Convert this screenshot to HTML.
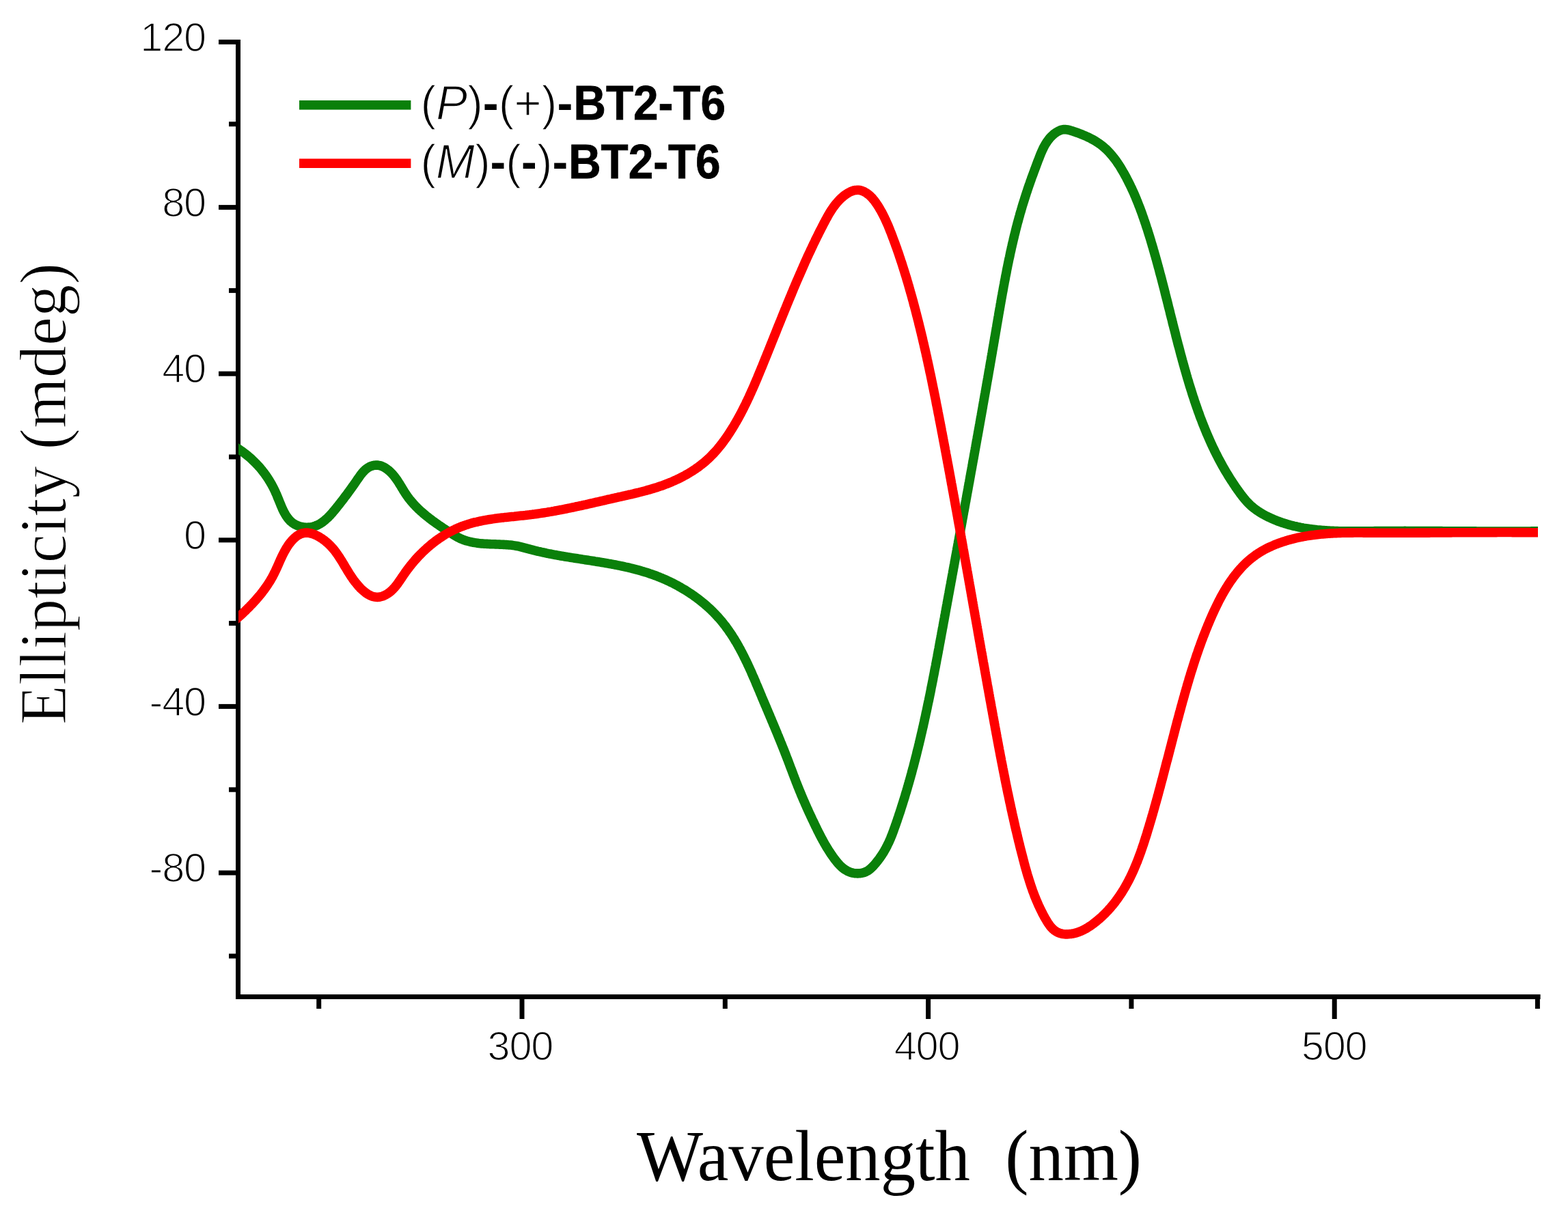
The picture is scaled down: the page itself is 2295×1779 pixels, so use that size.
<!DOCTYPE html>
<html><head><meta charset="utf-8"><title>CD spectra</title>
<style>
html,body{margin:0;padding:0;background:#fff;}
body{width:2295px;height:1779px;overflow:hidden;}
svg{display:block;}
</style></head><body>
<svg width="2295" height="1779" viewBox="0 0 2295 1779">
<rect x="345" y="58" width="7" height="1405" fill="#000"/>
<rect x="345" y="1456" width="1909.6" height="7" fill="#000"/>
<rect x="335" y="1396.4" width="13" height="7" fill="#000"/>
<rect x="320" y="1274.5" width="28" height="7" fill="#000"/>
<rect x="335" y="1152.7" width="13" height="7" fill="#000"/>
<rect x="320" y="1030.9" width="28" height="7" fill="#000"/>
<rect x="335" y="909.1" width="13" height="7" fill="#000"/>
<rect x="320" y="787.3" width="28" height="7" fill="#000"/>
<rect x="335" y="665.5" width="13" height="7" fill="#000"/>
<rect x="320" y="543.7" width="28" height="7" fill="#000"/>
<rect x="335" y="421.9" width="13" height="7" fill="#000"/>
<rect x="320" y="300.1" width="28" height="7" fill="#000"/>
<rect x="335" y="178.2" width="13" height="7" fill="#000"/>
<rect x="320" y="58.0" width="28" height="7" fill="#000"/>
<rect x="463.2" y="1459" width="7" height="18" fill="#000"/>
<rect x="760.5" y="1459" width="7" height="33" fill="#000"/>
<rect x="1057.8" y="1459" width="7" height="18" fill="#000"/>
<rect x="1355.1" y="1459" width="7" height="33" fill="#000"/>
<rect x="1652.4" y="1459" width="7" height="18" fill="#000"/>
<rect x="1949.7" y="1459" width="7" height="33" fill="#000"/>
<rect x="2246.9" y="1459" width="7" height="18" fill="#000"/>
<text x="301" y="1291.2" text-anchor="end" font-family="&apos;Liberation Sans&apos;, Arial, sans-serif" font-size="59.5" letter-spacing="-1.2" fill="#000" stroke="#fff" stroke-width="1.6">-80</text>
<text x="301" y="1047.6" text-anchor="end" font-family="&apos;Liberation Sans&apos;, Arial, sans-serif" font-size="59.5" letter-spacing="-1.2" fill="#000" stroke="#fff" stroke-width="1.6">-40</text>
<text x="301" y="804.0" text-anchor="end" font-family="&apos;Liberation Sans&apos;, Arial, sans-serif" font-size="59.5" letter-spacing="-1.2" fill="#000" stroke="#fff" stroke-width="1.6">0</text>
<text x="301" y="560.4" text-anchor="end" font-family="&apos;Liberation Sans&apos;, Arial, sans-serif" font-size="59.5" letter-spacing="-1.2" fill="#000" stroke="#fff" stroke-width="1.6">40</text>
<text x="301" y="316.8" text-anchor="end" font-family="&apos;Liberation Sans&apos;, Arial, sans-serif" font-size="59.5" letter-spacing="-1.2" fill="#000" stroke="#fff" stroke-width="1.6">80</text>
<text x="301" y="74.7" text-anchor="end" font-family="&apos;Liberation Sans&apos;, Arial, sans-serif" font-size="59.5" letter-spacing="-1.2" fill="#000" stroke="#fff" stroke-width="1.6">120</text>
<text x="761.4" y="1552" text-anchor="middle" font-family="&apos;Liberation Sans&apos;, Arial, sans-serif" font-size="59.5" letter-spacing="-1.2" fill="#000" stroke="#fff" stroke-width="1.6">300</text>
<text x="1356.5" y="1552" text-anchor="middle" font-family="&apos;Liberation Sans&apos;, Arial, sans-serif" font-size="59.5" letter-spacing="-1.2" fill="#000" stroke="#fff" stroke-width="1.6">400</text>
<text x="1952.6" y="1552" text-anchor="middle" font-family="&apos;Liberation Sans&apos;, Arial, sans-serif" font-size="59.5" letter-spacing="-1.2" fill="#000" stroke="#fff" stroke-width="1.6">500</text>
<clipPath id="pc"><rect x="348.9" y="0" width="1902" height="1779"/></clipPath>
<g clip-path="url(#pc)">
<path d="M344.0,654.0 L345.7,655.1 L347.4,656.2 L349.1,657.3 L350.8,658.5 L352.5,659.6 L354.1,660.8 L355.7,662.0 L357.3,663.2 L358.9,664.4 L360.4,665.6 L362.0,666.9 L363.5,668.1 L365.0,669.4 L366.5,670.7 L368.0,672.0 L369.4,673.4 L370.8,674.7 L372.2,676.1 L373.6,677.5 L375.0,678.9 L376.3,680.3 L377.7,681.7 L379.0,683.2 L380.3,684.6 L381.5,686.1 L382.8,687.6 L384.0,689.2 L385.2,690.7 L386.4,692.3 L387.6,693.8 L388.8,695.5 L389.9,697.1 L391.0,698.7 L392.1,700.4 L393.2,702.0 L394.2,703.7 L395.3,705.5 L396.3,707.2 L397.3,708.9 L398.3,710.7 L399.2,712.5 L400.2,714.3 L401.1,716.2 L402.0,718.0 L402.9,719.9 L403.7,721.8 L404.6,723.7 L405.4,725.6 L406.2,727.6 L407.0,729.6 L407.8,731.5 L408.6,733.5 L409.4,735.5 L410.2,737.4 L411.0,739.4 L411.8,741.3 L412.6,743.2 L413.4,745.1 L414.3,746.9 L415.2,748.8 L416.1,750.5 L417.1,752.3 L418.1,754.0 L419.1,755.6 L420.2,757.2 L421.4,758.8 L422.6,760.2 L423.8,761.6 L425.1,763.0 L426.5,764.2 L427.9,765.4 L429.5,766.5 L431.1,767.5 L432.7,768.4 L434.4,769.2 L436.2,769.9 L438.0,770.5 L439.9,771.0 L441.8,771.5 L443.8,771.8 L445.7,772.0 L447.7,772.2 L449.7,772.2 L451.6,772.1 L453.6,772.0 L455.6,771.7 L457.5,771.3 L459.4,770.8 L461.2,770.2 L463.1,769.5 L464.9,768.7 L466.6,767.9 L468.4,766.9 L470.0,765.8 L471.7,764.7 L473.3,763.5 L474.9,762.2 L476.5,760.9 L478.0,759.5 L479.6,758.1 L481.1,756.6 L482.5,755.1 L484.0,753.6 L485.4,752.0 L486.8,750.4 L488.1,748.8 L489.5,747.2 L490.8,745.6 L492.1,744.0 L493.4,742.3 L494.7,740.7 L495.9,739.2 L497.2,737.6 L498.4,736.0 L499.6,734.5 L500.8,732.9 L502.0,731.4 L503.2,729.8 L504.3,728.3 L505.5,726.7 L506.7,725.2 L507.8,723.7 L509.0,722.1 L510.1,720.6 L511.2,719.0 L512.4,717.5 L513.5,715.9 L514.6,714.3 L515.8,712.7 L516.9,711.1 L518.1,709.5 L519.2,707.8 L520.4,706.1 L521.5,704.5 L522.7,702.7 L523.9,701.0 L525.1,699.3 L526.3,697.6 L527.5,695.9 L528.8,694.2 L530.1,692.6 L531.5,691.0 L532.9,689.5 L534.3,688.1 L535.9,686.8 L537.4,685.6 L539.1,684.5 L540.8,683.5 L542.6,682.7 L544.4,682.1 L546.3,681.6 L548.2,681.2 L550.1,681.1 L552.1,681.1 L553.9,681.3 L555.8,681.7 L557.7,682.2 L559.5,682.9 L561.3,683.7 L563.0,684.7 L564.7,685.7 L566.4,686.9 L568.0,688.1 L569.6,689.4 L571.1,690.8 L572.5,692.2 L573.9,693.7 L575.3,695.2 L576.6,696.8 L577.8,698.3 L579.0,699.9 L580.2,701.6 L581.4,703.2 L582.5,704.9 L583.6,706.6 L584.6,708.3 L585.7,710.0 L586.8,711.8 L587.8,713.5 L588.9,715.2 L589.9,717.0 L591.0,718.7 L592.0,720.4 L593.1,722.1 L594.2,723.7 L595.3,725.4 L596.5,727.0 L597.6,728.6 L598.8,730.2 L600.1,731.8 L601.3,733.3 L602.6,734.8 L603.9,736.3 L605.2,737.8 L606.5,739.2 L607.9,740.7 L609.3,742.1 L610.7,743.5 L612.1,744.9 L613.5,746.2 L615.0,747.6 L616.4,748.9 L617.9,750.2 L619.4,751.5 L620.9,752.8 L622.5,754.1 L624.0,755.4 L625.6,756.6 L627.1,757.8 L628.7,759.1 L630.3,760.3 L631.9,761.5 L633.5,762.7 L635.2,763.9 L636.8,765.0 L638.4,766.2 L640.1,767.4 L641.7,768.5 L643.4,769.7 L645.1,770.8 L646.7,771.9 L648.4,773.1 L650.1,774.2 L651.8,775.3 L653.4,776.4 L655.1,777.5 L656.8,778.6 L658.5,779.7 L660.2,780.7 L661.8,781.8 L663.5,782.9 L665.2,783.9 L666.9,784.9 L668.6,785.9 L670.4,786.8 L672.1,787.7 L673.9,788.6 L675.7,789.3 L677.5,790.1 L679.4,790.8 L681.3,791.4 L683.1,792.0 L685.1,792.5 L687.0,793.0 L688.9,793.5 L690.9,793.9 L692.8,794.3 L694.8,794.6 L696.8,794.9 L698.8,795.2 L700.8,795.5 L702.8,795.7 L704.9,795.9 L706.9,796.0 L708.9,796.2 L710.9,796.3 L713.0,796.4 L715.0,796.5 L717.0,796.6 L719.0,796.7 L721.1,796.8 L723.1,796.8 L725.1,796.9 L727.1,797.0 L729.2,797.0 L731.2,797.1 L733.2,797.2 L735.2,797.3 L737.2,797.4 L739.2,797.5 L741.2,797.6 L743.2,797.7 L745.2,797.9 L747.2,798.1 L749.2,798.3 L751.1,798.6 L753.1,798.9 L755.0,799.2 L757.0,799.5 L758.9,799.9 L760.8,800.3 L762.8,800.8 L764.7,801.3 L766.6,801.8 L768.5,802.3 L770.4,802.8 L772.3,803.3 L774.2,803.8 L776.1,804.4 L778.1,804.9 L780.0,805.4 L781.9,805.9 L783.8,806.3 L785.8,806.8 L787.7,807.3 L789.6,807.7 L791.6,808.2 L793.5,808.6 L795.5,809.0 L797.4,809.4 L799.4,809.9 L801.3,810.3 L803.3,810.7 L805.2,811.0 L807.2,811.4 L809.2,811.8 L811.1,812.2 L813.1,812.5 L815.1,812.9 L817.1,813.3 L819.0,813.6 L821.0,814.0 L823.0,814.3 L825.0,814.6 L827.0,815.0 L828.9,815.3 L830.9,815.6 L832.9,815.9 L834.9,816.3 L836.9,816.6 L838.9,816.9 L840.9,817.2 L842.9,817.5 L844.9,817.8 L846.9,818.1 L848.9,818.4 L850.9,818.8 L852.9,819.1 L854.9,819.4 L856.8,819.7 L858.8,820.0 L860.8,820.3 L862.8,820.6 L864.8,820.9 L866.8,821.2 L868.8,821.5 L870.8,821.9 L872.8,822.2 L874.8,822.5 L876.8,822.8 L878.8,823.1 L880.8,823.5 L882.8,823.8 L884.8,824.1 L886.8,824.5 L888.7,824.8 L890.7,825.2 L892.7,825.5 L894.7,825.9 L896.7,826.3 L898.7,826.6 L900.6,827.0 L902.6,827.4 L904.6,827.8 L906.5,828.2 L908.5,828.6 L910.5,829.0 L912.4,829.4 L914.4,829.9 L916.4,830.3 L918.3,830.7 L920.3,831.2 L922.2,831.7 L924.2,832.1 L926.1,832.6 L928.1,833.1 L930.0,833.6 L931.9,834.1 L933.9,834.6 L935.8,835.2 L937.7,835.7 L939.6,836.3 L941.5,836.8 L943.4,837.4 L945.4,838.0 L947.3,838.6 L949.2,839.2 L951.0,839.9 L952.9,840.5 L954.8,841.2 L956.7,841.8 L958.6,842.5 L960.4,843.2 L962.3,843.9 L964.2,844.7 L966.0,845.4 L967.9,846.2 L969.7,846.9 L971.6,847.7 L973.4,848.5 L975.2,849.3 L977.0,850.2 L978.9,851.0 L980.7,851.9 L982.5,852.8 L984.3,853.6 L986.0,854.5 L987.8,855.5 L989.6,856.4 L991.3,857.3 L993.1,858.3 L994.8,859.3 L996.6,860.3 L998.3,861.3 L1000.0,862.3 L1001.7,863.3 L1003.5,864.3 L1005.1,865.4 L1006.8,866.5 L1008.5,867.6 L1010.2,868.7 L1011.8,869.8 L1013.5,870.9 L1015.1,872.0 L1016.7,873.2 L1018.3,874.4 L1019.9,875.5 L1021.5,876.7 L1023.1,877.9 L1024.7,879.2 L1026.2,880.4 L1027.8,881.7 L1029.3,882.9 L1030.9,884.2 L1032.4,885.5 L1033.9,886.8 L1035.3,888.1 L1036.8,889.4 L1038.3,890.8 L1039.7,892.1 L1041.2,893.5 L1042.6,894.9 L1044.0,896.3 L1045.4,897.7 L1046.8,899.1 L1048.1,900.6 L1049.5,902.0 L1050.8,903.5 L1052.1,904.9 L1053.4,906.4 L1054.7,907.9 L1056.0,909.4 L1057.3,911.0 L1058.5,912.5 L1059.7,914.1 L1061.0,915.6 L1062.2,917.2 L1063.3,918.8 L1064.5,920.4 L1065.7,922.0 L1066.8,923.6 L1067.9,925.3 L1069.1,926.9 L1070.2,928.6 L1071.3,930.2 L1072.3,931.9 L1073.4,933.6 L1074.5,935.3 L1075.5,937.0 L1076.5,938.7 L1077.6,940.4 L1078.6,942.1 L1079.6,943.9 L1080.6,945.6 L1081.5,947.4 L1082.5,949.1 L1083.5,950.9 L1084.4,952.7 L1085.4,954.5 L1086.3,956.2 L1087.2,958.0 L1088.1,959.8 L1089.0,961.6 L1089.9,963.5 L1090.8,965.3 L1091.7,967.1 L1092.6,968.9 L1093.5,970.7 L1094.3,972.6 L1095.2,974.4 L1096.0,976.2 L1096.9,978.1 L1097.7,979.9 L1098.6,981.8 L1099.4,983.6 L1100.2,985.5 L1101.0,987.4 L1101.8,989.2 L1102.6,991.1 L1103.5,992.9 L1104.3,994.8 L1105.1,996.7 L1105.9,998.5 L1106.6,1000.4 L1107.4,1002.3 L1108.2,1004.1 L1109.0,1006.0 L1109.8,1007.9 L1110.6,1009.7 L1111.4,1011.6 L1112.1,1013.4 L1112.9,1015.3 L1113.7,1017.2 L1114.5,1019.0 L1115.2,1020.9 L1116.0,1022.7 L1116.8,1024.6 L1117.6,1026.4 L1118.3,1028.3 L1119.1,1030.1 L1119.9,1032.0 L1120.7,1033.8 L1121.5,1035.6 L1122.2,1037.5 L1123.0,1039.3 L1123.8,1041.1 L1124.5,1043.0 L1125.3,1044.8 L1126.1,1046.6 L1126.9,1048.5 L1127.6,1050.3 L1128.4,1052.1 L1129.2,1054.0 L1129.9,1055.8 L1130.7,1057.6 L1131.5,1059.4 L1132.2,1061.3 L1133.0,1063.1 L1133.8,1064.9 L1134.5,1066.7 L1135.3,1068.6 L1136.1,1070.4 L1136.8,1072.2 L1137.6,1074.1 L1138.3,1075.9 L1139.1,1077.7 L1139.8,1079.6 L1140.6,1081.4 L1141.3,1083.2 L1142.1,1085.1 L1142.8,1086.9 L1143.6,1088.7 L1144.3,1090.6 L1145.0,1092.4 L1145.8,1094.3 L1146.5,1096.1 L1147.3,1098.0 L1148.0,1099.8 L1148.7,1101.7 L1149.4,1103.5 L1150.2,1105.4 L1150.9,1107.3 L1151.6,1109.1 L1152.3,1111.0 L1153.1,1112.9 L1153.8,1114.7 L1154.5,1116.6 L1155.2,1118.5 L1155.9,1120.4 L1156.6,1122.3 L1157.3,1124.1 L1158.0,1126.0 L1158.8,1127.9 L1159.5,1129.8 L1160.2,1131.7 L1160.9,1133.6 L1161.6,1135.5 L1162.3,1137.3 L1163.0,1139.2 L1163.8,1141.1 L1164.5,1143.0 L1165.2,1144.9 L1166.0,1146.8 L1166.7,1148.6 L1167.4,1150.5 L1168.2,1152.4 L1168.9,1154.2 L1169.7,1156.1 L1170.4,1158.0 L1171.2,1159.8 L1172.0,1161.7 L1172.7,1163.5 L1173.5,1165.4 L1174.3,1167.2 L1175.1,1169.1 L1175.9,1170.9 L1176.7,1172.8 L1177.5,1174.6 L1178.3,1176.4 L1179.1,1178.3 L1179.9,1180.1 L1180.7,1181.9 L1181.5,1183.7 L1182.3,1185.5 L1183.2,1187.4 L1184.0,1189.2 L1184.8,1191.0 L1185.7,1192.8 L1186.5,1194.6 L1187.4,1196.4 L1188.2,1198.2 L1189.0,1200.0 L1189.9,1201.8 L1190.8,1203.6 L1191.6,1205.4 L1192.5,1207.2 L1193.3,1209.0 L1194.2,1210.7 L1195.1,1212.5 L1195.9,1214.3 L1196.8,1216.1 L1197.7,1217.9 L1198.6,1219.6 L1199.5,1221.4 L1200.4,1223.2 L1201.3,1224.9 L1202.2,1226.7 L1203.2,1228.4 L1204.1,1230.2 L1205.1,1231.9 L1206.0,1233.6 L1207.0,1235.4 L1208.0,1237.1 L1209.0,1238.8 L1210.0,1240.5 L1211.1,1242.2 L1212.1,1243.9 L1213.2,1245.6 L1214.3,1247.3 L1215.4,1249.0 L1216.5,1250.7 L1217.7,1252.3 L1218.8,1254.0 L1220.0,1255.6 L1221.2,1257.3 L1222.4,1258.9 L1223.7,1260.5 L1225.0,1262.1 L1226.3,1263.7 L1227.6,1265.2 L1229.0,1266.7 L1230.5,1268.1 L1231.9,1269.5 L1233.4,1270.8 L1235.0,1272.0 L1236.6,1273.2 L1238.3,1274.2 L1240.0,1275.2 L1241.8,1276.0 L1243.6,1276.8 L1245.5,1277.4 L1247.4,1278.0 L1249.4,1278.4 L1251.4,1278.7 L1253.4,1278.8 L1255.3,1278.9 L1257.3,1278.8 L1259.3,1278.7 L1261.2,1278.3 L1263.1,1277.9 L1265.0,1277.4 L1266.8,1276.7 L1268.5,1275.8 L1270.2,1274.9 L1271.8,1273.8 L1273.3,1272.6 L1274.8,1271.3 L1276.2,1270.0 L1277.6,1268.6 L1279.0,1267.1 L1280.3,1265.6 L1281.6,1264.1 L1282.9,1262.5 L1284.2,1260.9 L1285.4,1259.3 L1286.7,1257.7 L1287.9,1256.0 L1289.0,1254.3 L1290.2,1252.7 L1291.3,1250.9 L1292.4,1249.2 L1293.5,1247.5 L1294.5,1245.7 L1295.5,1243.9 L1296.5,1242.2 L1297.4,1240.4 L1298.4,1238.6 L1299.2,1236.8 L1300.1,1235.0 L1301.0,1233.2 L1301.8,1231.3 L1302.6,1229.5 L1303.4,1227.7 L1304.1,1225.9 L1304.9,1224.0 L1305.6,1222.2 L1306.3,1220.3 L1307.0,1218.5 L1307.7,1216.6 L1308.4,1214.7 L1309.0,1212.9 L1309.7,1211.0 L1310.4,1209.1 L1311.0,1207.3 L1311.7,1205.4 L1312.3,1203.5 L1313.0,1201.7 L1313.6,1199.8 L1314.2,1197.9 L1314.9,1196.0 L1315.5,1194.1 L1316.1,1192.2 L1316.8,1190.3 L1317.4,1188.5 L1318.0,1186.6 L1318.6,1184.7 L1319.2,1182.8 L1319.8,1180.9 L1320.4,1179.0 L1321.0,1177.1 L1321.6,1175.2 L1322.2,1173.3 L1322.8,1171.4 L1323.4,1169.5 L1324.0,1167.6 L1324.6,1165.6 L1325.1,1163.7 L1325.7,1161.8 L1326.3,1159.9 L1326.9,1158.0 L1327.4,1156.1 L1328.0,1154.2 L1328.5,1152.2 L1329.1,1150.3 L1329.6,1148.4 L1330.2,1146.5 L1330.7,1144.5 L1331.3,1142.6 L1331.8,1140.7 L1332.4,1138.8 L1332.9,1136.8 L1333.4,1134.9 L1334.0,1133.0 L1334.5,1131.0 L1335.0,1129.1 L1335.5,1127.2 L1336.0,1125.2 L1336.6,1123.3 L1337.1,1121.4 L1337.6,1119.4 L1338.1,1117.5 L1338.6,1115.6 L1339.1,1113.6 L1339.6,1111.7 L1340.1,1109.7 L1340.6,1107.8 L1341.1,1105.9 L1341.6,1103.9 L1342.0,1102.0 L1342.5,1100.0 L1343.0,1098.1 L1343.5,1096.1 L1344.0,1094.2 L1344.4,1092.3 L1344.9,1090.3 L1345.4,1088.4 L1345.8,1086.4 L1346.3,1084.5 L1346.8,1082.5 L1347.2,1080.6 L1347.7,1078.6 L1348.1,1076.7 L1348.6,1074.7 L1349.0,1072.8 L1349.5,1070.8 L1349.9,1068.9 L1350.4,1066.9 L1350.8,1065.0 L1351.3,1063.0 L1351.7,1061.1 L1352.1,1059.1 L1352.6,1057.2 L1353.0,1055.2 L1353.4,1053.2 L1353.8,1051.3 L1354.3,1049.3 L1354.7,1047.4 L1355.1,1045.4 L1355.5,1043.5 L1356.0,1041.5 L1356.4,1039.6 L1356.8,1037.6 L1357.2,1035.6 L1357.6,1033.7 L1358.0,1031.7 L1358.4,1029.8 L1358.8,1027.8 L1359.3,1025.9 L1359.7,1023.9 L1360.1,1021.9 L1360.5,1020.0 L1360.9,1018.0 L1361.3,1016.1 L1361.7,1014.1 L1362.1,1012.1 L1362.5,1010.2 L1362.8,1008.2 L1363.2,1006.2 L1363.6,1004.3 L1364.0,1002.3 L1364.4,1000.4 L1364.8,998.4 L1365.2,996.4 L1365.6,994.5 L1365.9,992.5 L1366.3,990.5 L1366.7,988.6 L1367.1,986.6 L1367.5,984.6 L1367.8,982.7 L1368.2,980.7 L1368.6,978.7 L1369.0,976.8 L1369.4,974.8 L1369.7,972.9 L1370.1,970.9 L1370.5,968.9 L1370.8,967.0 L1371.2,965.0 L1371.6,963.0 L1372.0,961.1 L1372.3,959.1 L1372.7,957.1 L1373.1,955.2 L1373.4,953.2 L1373.8,951.2 L1374.2,949.3 L1374.5,947.3 L1374.9,945.3 L1375.2,943.4 L1375.6,941.4 L1376.0,939.4 L1376.3,937.4 L1376.7,935.5 L1377.1,933.5 L1377.4,931.5 L1377.8,929.6 L1378.1,927.6 L1378.5,925.6 L1378.9,923.7 L1379.2,921.7 L1379.6,919.7 L1380.0,917.8 L1380.3,915.8 L1380.7,913.8 L1381.0,911.9 L1381.4,909.9 L1381.8,907.9 L1382.1,906.0 L1382.5,904.0 L1382.8,902.0 L1383.2,900.1 L1383.6,898.1 L1383.9,896.1 L1384.3,894.2 L1384.6,892.2 L1385.0,890.2 L1385.4,888.2 L1385.7,886.3 L1386.1,884.3 L1386.4,882.3 L1386.8,880.4 L1387.2,878.4 L1387.5,876.4 L1387.9,874.5 L1388.2,872.5 L1388.6,870.5 L1389.0,868.6 L1389.3,866.6 L1389.7,864.6 L1390.0,862.7 L1390.4,860.7 L1390.8,858.7 L1391.1,856.8 L1391.5,854.8 L1391.8,852.8 L1392.2,850.9 L1392.6,848.9 L1392.9,846.9 L1393.3,845.0 L1393.6,843.0 L1394.0,841.0 L1394.4,839.1 L1394.7,837.1 L1395.1,835.1 L1395.4,833.2 L1395.8,831.2 L1396.2,829.2 L1396.5,827.2 L1396.9,825.3 L1397.2,823.3 L1397.6,821.3 L1398.0,819.4 L1398.3,817.4 L1398.7,815.4 L1399.0,813.5 L1399.4,811.5 L1399.8,809.5 L1400.1,807.6 L1400.5,805.6 L1400.8,803.6 L1401.2,801.7 L1401.6,799.7 L1401.9,797.7 L1402.3,795.8 L1402.6,793.8 L1403.0,791.8 L1403.4,789.9 L1403.7,787.9 L1404.1,785.9 L1404.4,784.0 L1404.8,782.0 L1405.2,780.0 L1405.5,778.1 L1405.9,776.1 L1406.2,774.1 L1406.6,772.2 L1407.0,770.2 L1407.3,768.2 L1407.7,766.3 L1408.0,764.3 L1408.4,762.3 L1408.7,760.4 L1409.1,758.4 L1409.5,756.4 L1409.8,754.5 L1410.2,752.5 L1410.5,750.5 L1410.9,748.5 L1411.3,746.6 L1411.6,744.6 L1412.0,742.6 L1412.3,740.7 L1412.7,738.7 L1413.0,736.7 L1413.4,734.8 L1413.8,732.8 L1414.1,730.8 L1414.5,728.9 L1414.8,726.9 L1415.2,724.9 L1415.5,723.0 L1415.9,721.0 L1416.3,719.0 L1416.6,717.1 L1417.0,715.1 L1417.3,713.1 L1417.7,711.2 L1418.0,709.2 L1418.4,707.2 L1418.8,705.3 L1419.1,703.3 L1419.5,701.3 L1419.8,699.4 L1420.2,697.4 L1420.5,695.4 L1420.9,693.4 L1421.2,691.5 L1421.6,689.5 L1422.0,687.5 L1422.3,685.6 L1422.7,683.6 L1423.0,681.6 L1423.4,679.7 L1423.7,677.7 L1424.1,675.7 L1424.4,673.8 L1424.8,671.8 L1425.2,669.8 L1425.5,667.9 L1425.9,665.9 L1426.2,663.9 L1426.6,661.9 L1426.9,660.0 L1427.3,658.0 L1427.6,656.0 L1428.0,654.1 L1428.3,652.1 L1428.7,650.1 L1429.0,648.2 L1429.4,646.2 L1429.7,644.2 L1430.1,642.3 L1430.4,640.3 L1430.8,638.3 L1431.2,636.3 L1431.5,634.4 L1431.9,632.4 L1432.2,630.4 L1432.6,628.5 L1432.9,626.5 L1433.3,624.5 L1433.6,622.6 L1434.0,620.6 L1434.3,618.6 L1434.7,616.7 L1435.0,614.7 L1435.4,612.7 L1435.7,610.7 L1436.1,608.8 L1436.4,606.8 L1436.8,604.8 L1437.1,602.9 L1437.5,600.9 L1437.8,598.9 L1438.2,597.0 L1438.5,595.0 L1438.8,593.0 L1439.2,591.0 L1439.5,589.1 L1439.9,587.1 L1440.2,585.1 L1440.6,583.2 L1440.9,581.2 L1441.3,579.2 L1441.6,577.2 L1442.0,575.3 L1442.3,573.3 L1442.7,571.3 L1443.0,569.4 L1443.4,567.4 L1443.7,565.4 L1444.0,563.4 L1444.4,561.5 L1444.7,559.5 L1445.1,557.5 L1445.4,555.6 L1445.8,553.6 L1446.1,551.6 L1446.5,549.6 L1446.8,547.7 L1447.1,545.7 L1447.5,543.7 L1447.8,541.8 L1448.2,539.8 L1448.5,537.8 L1448.9,535.8 L1449.2,533.9 L1449.5,531.9 L1449.9,529.9 L1450.2,528.0 L1450.6,526.0 L1450.9,524.0 L1451.2,522.0 L1451.6,520.1 L1451.9,518.1 L1452.3,516.1 L1452.6,514.1 L1452.9,512.2 L1453.3,510.2 L1453.6,508.2 L1454.0,506.2 L1454.3,504.3 L1454.6,502.3 L1455.0,500.3 L1455.3,498.4 L1455.6,496.4 L1456.0,494.4 L1456.3,492.4 L1456.7,490.5 L1457.0,488.5 L1457.3,486.5 L1457.7,484.5 L1458.0,482.6 L1458.3,480.6 L1458.7,478.6 L1459.0,476.6 L1459.3,474.7 L1459.7,472.7 L1460.0,470.7 L1460.4,468.7 L1460.7,466.8 L1461.0,464.8 L1461.4,462.8 L1461.7,460.8 L1462.0,458.9 L1462.4,456.9 L1462.7,454.9 L1463.1,453.0 L1463.4,451.0 L1463.8,449.0 L1464.1,447.0 L1464.4,445.1 L1464.8,443.1 L1465.1,441.1 L1465.5,439.1 L1465.8,437.2 L1466.2,435.2 L1466.5,433.2 L1466.9,431.3 L1467.2,429.3 L1467.6,427.3 L1468.0,425.4 L1468.3,423.4 L1468.7,421.4 L1469.0,419.5 L1469.4,417.5 L1469.8,415.5 L1470.1,413.5 L1470.5,411.6 L1470.9,409.6 L1471.3,407.7 L1471.6,405.7 L1472.0,403.7 L1472.4,401.8 L1472.8,399.8 L1473.2,397.8 L1473.5,395.9 L1473.9,393.9 L1474.3,392.0 L1474.7,390.0 L1475.1,388.0 L1475.5,386.1 L1475.9,384.1 L1476.3,382.2 L1476.7,380.2 L1477.1,378.3 L1477.6,376.3 L1478.0,374.3 L1478.4,372.4 L1478.8,370.4 L1479.2,368.5 L1479.7,366.5 L1480.1,364.6 L1480.5,362.6 L1481.0,360.7 L1481.4,358.7 L1481.9,356.8 L1482.3,354.8 L1482.8,352.9 L1483.2,351.0 L1483.7,349.0 L1484.2,347.1 L1484.6,345.1 L1485.1,343.2 L1485.6,341.3 L1486.1,339.3 L1486.5,337.4 L1487.0,335.5 L1487.5,333.5 L1488.0,331.6 L1488.5,329.7 L1489.0,327.7 L1489.5,325.8 L1490.1,323.9 L1490.6,321.9 L1491.1,320.0 L1491.6,318.1 L1492.2,316.2 L1492.7,314.2 L1493.2,312.3 L1493.8,310.4 L1494.4,308.5 L1494.9,306.6 L1495.5,304.6 L1496.0,302.7 L1496.6,300.8 L1497.2,298.9 L1497.8,297.0 L1498.4,295.1 L1499.0,293.2 L1499.6,291.3 L1500.2,289.4 L1500.8,287.5 L1501.4,285.6 L1502.0,283.7 L1502.6,281.8 L1503.3,279.9 L1503.9,278.0 L1504.5,276.1 L1505.2,274.2 L1505.8,272.3 L1506.5,270.4 L1507.2,268.5 L1507.8,266.6 L1508.5,264.7 L1509.2,262.8 L1509.8,260.9 L1510.5,259.0 L1511.2,257.2 L1511.9,255.3 L1512.6,253.4 L1513.3,251.5 L1514.0,249.6 L1514.7,247.7 L1515.4,245.8 L1516.1,244.0 L1516.8,242.1 L1517.5,240.2 L1518.2,238.3 L1518.9,236.4 L1519.6,234.6 L1520.4,232.7 L1521.1,230.8 L1521.8,228.9 L1522.6,227.1 L1523.3,225.2 L1524.1,223.3 L1524.9,221.5 L1525.7,219.7 L1526.6,217.9 L1527.4,216.1 L1528.4,214.3 L1529.3,212.6 L1530.3,210.9 L1531.4,209.2 L1532.4,207.6 L1533.6,206.0 L1534.8,204.4 L1536.0,202.8 L1537.3,201.3 L1538.7,199.9 L1540.1,198.5 L1541.6,197.1 L1543.2,195.8 L1544.8,194.6 L1546.5,193.5 L1548.2,192.5 L1550.0,191.6 L1551.7,190.8 L1553.5,190.2 L1555.3,189.8 L1557.2,189.6 L1559.0,189.5 L1560.8,189.7 L1562.7,190.0 L1564.5,190.4 L1566.4,190.9 L1568.2,191.5 L1570.1,192.1 L1572.0,192.7 L1573.9,193.3 L1575.8,194.0 L1577.7,194.7 L1579.6,195.4 L1581.5,196.1 L1583.5,196.9 L1585.4,197.7 L1587.3,198.5 L1589.2,199.3 L1591.0,200.1 L1592.9,201.0 L1594.8,201.9 L1596.6,202.9 L1598.4,203.8 L1600.2,204.8 L1602.0,205.8 L1603.8,206.9 L1605.5,208.0 L1607.2,209.1 L1608.9,210.2 L1610.5,211.4 L1612.1,212.6 L1613.6,213.8 L1615.2,215.1 L1616.7,216.4 L1618.1,217.7 L1619.6,219.0 L1621.0,220.4 L1622.3,221.8 L1623.7,223.2 L1625.0,224.7 L1626.3,226.2 L1627.6,227.7 L1628.8,229.2 L1630.0,230.7 L1631.2,232.3 L1632.4,233.8 L1633.6,235.4 L1634.7,237.0 L1635.8,238.7 L1636.9,240.3 L1638.0,241.9 L1639.1,243.6 L1640.1,245.3 L1641.1,247.0 L1642.1,248.7 L1643.1,250.4 L1644.1,252.1 L1645.1,253.8 L1646.1,255.6 L1647.0,257.3 L1648.0,259.0 L1648.9,260.8 L1649.8,262.6 L1650.7,264.3 L1651.6,266.1 L1652.5,267.9 L1653.4,269.7 L1654.3,271.4 L1655.1,273.2 L1656.0,275.0 L1656.8,276.9 L1657.7,278.7 L1658.5,280.5 L1659.3,282.3 L1660.1,284.1 L1660.9,286.0 L1661.7,287.8 L1662.5,289.7 L1663.2,291.5 L1664.0,293.4 L1664.7,295.2 L1665.5,297.1 L1666.2,298.9 L1666.9,300.8 L1667.7,302.7 L1668.4,304.5 L1669.1,306.4 L1669.8,308.3 L1670.5,310.2 L1671.2,312.1 L1671.9,314.0 L1672.5,315.9 L1673.2,317.8 L1673.9,319.7 L1674.5,321.6 L1675.2,323.5 L1675.8,325.4 L1676.5,327.3 L1677.1,329.2 L1677.7,331.1 L1678.3,333.0 L1679.0,334.9 L1679.6,336.8 L1680.2,338.8 L1680.8,340.7 L1681.4,342.6 L1682.0,344.5 L1682.6,346.4 L1683.2,348.4 L1683.8,350.3 L1684.4,352.2 L1684.9,354.1 L1685.5,356.1 L1686.1,358.0 L1686.6,359.9 L1687.2,361.8 L1687.8,363.8 L1688.3,365.7 L1688.9,367.6 L1689.4,369.5 L1690.0,371.5 L1690.5,373.4 L1691.1,375.3 L1691.6,377.2 L1692.2,379.2 L1692.7,381.1 L1693.2,383.0 L1693.8,385.0 L1694.3,386.9 L1694.8,388.8 L1695.3,390.8 L1695.9,392.7 L1696.4,394.6 L1696.9,396.5 L1697.4,398.5 L1697.9,400.4 L1698.4,402.3 L1699.0,404.3 L1699.5,406.2 L1700.0,408.1 L1700.5,410.1 L1701.0,412.0 L1701.5,413.9 L1702.0,415.9 L1702.5,417.8 L1703.0,419.7 L1703.5,421.7 L1704.0,423.6 L1704.5,425.6 L1705.0,427.5 L1705.4,429.4 L1705.9,431.4 L1706.4,433.3 L1706.9,435.2 L1707.4,437.2 L1707.9,439.1 L1708.4,441.0 L1708.9,443.0 L1709.4,444.9 L1709.8,446.8 L1710.3,448.8 L1710.8,450.7 L1711.3,452.7 L1711.8,454.6 L1712.3,456.5 L1712.7,458.5 L1713.2,460.4 L1713.7,462.3 L1714.2,464.3 L1714.7,466.2 L1715.2,468.1 L1715.7,470.1 L1716.1,472.0 L1716.6,474.0 L1717.1,475.9 L1717.6,477.8 L1718.1,479.8 L1718.6,481.7 L1719.1,483.6 L1719.6,485.6 L1720.1,487.5 L1720.6,489.4 L1721.0,491.4 L1721.5,493.3 L1722.0,495.2 L1722.5,497.2 L1723.0,499.1 L1723.5,501.0 L1724.0,503.0 L1724.5,504.9 L1725.0,506.8 L1725.6,508.8 L1726.1,510.7 L1726.6,512.6 L1727.1,514.6 L1727.6,516.5 L1728.1,518.4 L1728.6,520.4 L1729.2,522.3 L1729.7,524.2 L1730.2,526.2 L1730.7,528.1 L1731.3,530.0 L1731.8,531.9 L1732.3,533.9 L1732.9,535.8 L1733.4,537.7 L1734.0,539.7 L1734.5,541.6 L1735.1,543.5 L1735.6,545.4 L1736.2,547.4 L1736.7,549.3 L1737.3,551.2 L1737.8,553.1 L1738.4,555.1 L1739.0,557.0 L1739.6,558.9 L1740.1,560.8 L1740.7,562.7 L1741.3,564.7 L1741.9,566.6 L1742.5,568.5 L1743.1,570.4 L1743.7,572.3 L1744.3,574.2 L1744.9,576.2 L1745.5,578.1 L1746.1,580.0 L1746.8,581.9 L1747.4,583.8 L1748.0,585.7 L1748.6,587.6 L1749.3,589.5 L1749.9,591.4 L1750.6,593.3 L1751.2,595.2 L1751.9,597.1 L1752.6,599.0 L1753.2,600.9 L1753.9,602.8 L1754.6,604.7 L1755.3,606.5 L1755.9,608.4 L1756.6,610.3 L1757.3,612.2 L1758.1,614.1 L1758.8,615.9 L1759.5,617.8 L1760.2,619.7 L1760.9,621.5 L1761.7,623.4 L1762.4,625.2 L1763.2,627.1 L1763.9,629.0 L1764.7,630.8 L1765.4,632.6 L1766.2,634.5 L1767.0,636.3 L1767.8,638.2 L1768.6,640.0 L1769.4,641.8 L1770.2,643.7 L1771.0,645.5 L1771.8,647.3 L1772.6,649.1 L1773.5,650.9 L1774.3,652.7 L1775.1,654.5 L1776.0,656.3 L1776.9,658.1 L1777.7,659.9 L1778.6,661.7 L1779.5,663.5 L1780.4,665.3 L1781.3,667.0 L1782.2,668.8 L1783.1,670.6 L1784.0,672.3 L1785.0,674.1 L1785.9,675.8 L1786.9,677.6 L1787.8,679.3 L1788.8,681.1 L1789.7,682.8 L1790.7,684.5 L1791.7,686.3 L1792.7,688.0 L1793.7,689.7 L1794.7,691.4 L1795.8,693.1 L1796.8,694.8 L1797.8,696.5 L1798.9,698.2 L1799.9,699.9 L1801.0,701.6 L1802.1,703.3 L1803.2,704.9 L1804.3,706.6 L1805.4,708.3 L1806.5,709.9 L1807.6,711.6 L1808.7,713.3 L1809.9,714.9 L1811.0,716.6 L1812.2,718.2 L1813.4,719.8 L1814.6,721.5 L1815.7,723.1 L1817.0,724.7 L1818.2,726.3 L1819.4,727.9 L1820.7,729.5 L1822.0,731.0 L1823.3,732.6 L1824.6,734.1 L1826.0,735.5 L1827.4,737.0 L1828.8,738.4 L1830.2,739.8 L1831.7,741.1 L1833.3,742.4 L1834.8,743.7 L1836.4,744.9 L1838.0,746.1 L1839.6,747.3 L1841.3,748.4 L1843.0,749.5 L1844.7,750.6 L1846.4,751.6 L1848.1,752.6 L1849.9,753.6 L1851.7,754.6 L1853.4,755.5 L1855.2,756.4 L1857.0,757.3 L1858.9,758.1 L1860.7,759.0 L1862.5,759.8 L1864.3,760.6 L1866.2,761.3 L1868.0,762.1 L1869.8,762.8 L1871.7,763.5 L1873.6,764.2 L1875.4,764.8 L1877.3,765.5 L1879.2,766.1 L1881.0,766.7 L1882.9,767.2 L1884.8,767.8 L1886.7,768.3 L1888.6,768.9 L1890.5,769.3 L1892.4,769.8 L1894.3,770.3 L1896.3,770.7 L1898.2,771.2 L1900.1,771.6 L1902.0,772.0 L1904.0,772.4 L1905.9,772.7 L1907.9,773.1 L1909.8,773.4 L1911.8,773.7 L1913.7,774.0 L1915.7,774.3 L1917.6,774.6 L1919.6,774.8 L1921.6,775.1 L1923.6,775.3 L1925.5,775.5 L1927.5,775.8 L1929.5,776.0 L1931.5,776.1 L1933.5,776.3 L1935.5,776.5 L1937.4,776.6 L1939.4,776.8 L1941.4,776.9 L1943.4,777.0 L1945.4,777.1 L1947.4,777.2 L1949.4,777.3 L1951.5,777.4 L1953.5,777.5 L1955.5,777.6 L1957.5,777.6 L1959.5,777.7 L1961.5,777.7 L1963.5,777.8 L1965.6,777.8 L1967.6,777.8 L1969.6,777.9 L1971.6,777.9 L1973.6,777.9 L1975.7,777.9 L1977.7,777.9 L1979.7,777.9 L1981.7,777.9 L1983.8,777.9 L1985.8,777.9 L1987.8,777.9 L1989.8,777.9 L1991.9,777.9 L1993.9,777.8 L1995.9,777.8 L1997.9,777.8 L2000.0,777.8 L2002.0,777.8 L2004.0,777.7 L2006.0,777.7 L2008.0,777.7 L2010.1,777.7 L2012.1,777.6 L2014.1,777.6 L2016.1,777.6 L2018.1,777.6 L2020.1,777.6 L2022.2,777.6 L2024.2,777.5 L2026.2,777.5 L2028.2,777.5 L2030.2,777.5 L2032.2,777.5 L2034.2,777.5 L2036.2,777.5 L2038.2,777.5 L2040.2,777.5 L2042.2,777.5 L2044.3,777.5 L2046.3,777.5 L2048.3,777.5 L2050.3,777.5 L2052.3,777.5 L2054.3,777.5 L2056.3,777.4 L2058.3,777.5 L2060.3,777.5 L2062.3,777.5 L2064.3,777.5 L2066.3,777.5 L2068.3,777.5 L2070.3,777.5 L2072.2,777.5 L2074.2,777.5 L2076.2,777.5 L2078.2,777.5 L2080.2,777.5 L2082.2,777.5 L2084.2,777.5 L2086.2,777.5 L2088.2,777.5 L2090.2,777.5 L2092.2,777.5 L2094.2,777.6 L2096.2,777.6 L2098.2,777.6 L2100.1,777.6 L2102.1,777.6 L2104.1,777.6 L2106.1,777.6 L2108.1,777.6 L2110.1,777.6 L2112.1,777.7 L2114.1,777.7 L2116.1,777.7 L2118.1,777.7 L2120.0,777.7 L2122.0,777.7 L2124.0,777.7 L2126.0,777.7 L2128.0,777.8 L2130.0,777.8 L2132.0,777.8 L2134.0,777.8 L2136.0,777.8 L2137.9,777.8 L2139.9,777.8 L2141.9,777.8 L2143.9,777.9 L2145.9,777.9 L2147.9,777.9 L2149.9,777.9 L2151.9,777.9 L2153.9,777.9 L2155.8,777.9 L2157.8,777.9 L2159.8,777.9 L2161.8,778.0 L2163.8,778.0 L2165.8,778.0 L2167.8,778.0 L2169.8,778.0 L2171.8,778.0 L2173.8,778.0 L2175.8,778.0 L2177.8,778.0 L2179.7,778.0 L2181.7,778.0 L2183.7,778.1 L2185.7,778.1 L2187.7,778.1 L2189.7,778.1 L2191.7,778.1 L2193.7,778.1 L2195.7,778.1 L2197.7,778.1 L2199.7,778.1 L2201.7,778.1 L2203.7,778.1 L2205.7,778.1 L2207.7,778.1 L2209.7,778.1 L2211.7,778.1 L2213.7,778.1 L2215.7,778.1 L2217.7,778.1 L2219.7,778.1 L2221.7,778.1 L2223.8,778.0 L2225.8,778.0 L2227.8,778.0 L2229.8,778.0 L2231.8,778.0 L2233.8,778.0 L2235.8,778.0 L2237.8,778.0 L2239.8,778.0 L2241.9,777.9 L2243.9,777.9 L2245.9,777.9 L2247.9,777.9 L2249.9,777.9 L2252.0,777.8 L2254.0,777.8 L2256.0,777.8" fill="none" stroke="#0a800a" stroke-width="13.6" stroke-linejoin="round" stroke-linecap="butt"/>
<path d="M344.0,908.2 L345.5,906.9 L347.0,905.6 L348.4,904.3 L349.9,902.9 L351.4,901.6 L352.9,900.2 L354.3,898.9 L355.8,897.5 L357.2,896.1 L358.7,894.7 L360.1,893.4 L361.5,891.9 L363.0,890.5 L364.4,889.1 L365.8,887.7 L367.2,886.2 L368.6,884.8 L370.0,883.3 L371.3,881.8 L372.7,880.3 L374.0,878.9 L375.4,877.3 L376.7,875.8 L378.0,874.3 L379.3,872.8 L380.6,871.2 L381.8,869.7 L383.1,868.1 L384.3,866.5 L385.5,864.9 L386.7,863.3 L387.9,861.7 L389.0,860.1 L390.2,858.4 L391.3,856.8 L392.4,855.1 L393.5,853.4 L394.5,851.8 L395.6,850.1 L396.6,848.3 L397.6,846.6 L398.6,844.9 L399.5,843.1 L400.4,841.4 L401.3,839.6 L402.2,837.8 L403.1,836.0 L403.9,834.2 L404.7,832.4 L405.6,830.6 L406.4,828.8 L407.2,827.0 L408.0,825.1 L408.8,823.3 L409.6,821.5 L410.4,819.6 L411.3,817.8 L412.1,816.0 L413.0,814.1 L413.9,812.3 L414.8,810.5 L415.7,808.7 L416.7,806.9 L417.7,805.2 L418.7,803.4 L419.8,801.6 L420.9,799.9 L422.0,798.2 L423.2,796.5 L424.5,794.9 L425.8,793.3 L427.1,791.7 L428.4,790.3 L429.8,788.9 L431.3,787.5 L432.7,786.3 L434.2,785.1 L435.8,784.1 L437.4,783.1 L439.0,782.3 L440.6,781.6 L442.3,781.0 L444.1,780.6 L445.9,780.3 L447.7,780.1 L449.5,780.1 L451.4,780.3 L453.3,780.6 L455.2,781.0 L457.1,781.6 L459.1,782.2 L461.0,783.0 L463.0,783.9 L464.9,784.8 L466.8,785.9 L468.6,787.0 L470.5,788.2 L472.3,789.4 L474.1,790.7 L475.8,792.0 L477.4,793.4 L479.0,794.7 L480.6,796.1 L482.0,797.5 L483.4,798.9 L484.8,800.4 L486.1,801.8 L487.4,803.3 L488.7,804.8 L489.9,806.3 L491.0,807.8 L492.2,809.4 L493.3,810.9 L494.4,812.5 L495.5,814.1 L496.6,815.8 L497.6,817.4 L498.7,819.1 L499.7,820.7 L500.8,822.4 L501.8,824.1 L502.8,825.8 L503.8,827.5 L504.8,829.2 L505.8,830.9 L506.9,832.6 L507.9,834.3 L508.9,836.0 L510.0,837.7 L511.0,839.4 L512.1,841.1 L513.2,842.8 L514.3,844.5 L515.5,846.2 L516.6,847.8 L517.8,849.5 L519.0,851.1 L520.3,852.7 L521.6,854.3 L522.9,855.9 L524.2,857.5 L525.6,859.0 L527.0,860.6 L528.5,862.1 L530.0,863.5 L531.6,864.9 L533.1,866.2 L534.8,867.5 L536.4,868.7 L538.1,869.8 L539.8,870.8 L541.5,871.7 L543.3,872.5 L545.0,873.2 L546.8,873.7 L548.7,874.1 L550.5,874.3 L552.4,874.4 L554.2,874.3 L556.1,874.0 L558.0,873.5 L559.9,873.0 L561.7,872.2 L563.5,871.4 L565.3,870.5 L567.0,869.5 L568.6,868.4 L570.2,867.2 L571.7,866.0 L573.2,864.7 L574.6,863.3 L575.9,861.9 L577.3,860.5 L578.5,859.0 L579.8,857.5 L581.0,855.9 L582.2,854.3 L583.3,852.7 L584.5,851.0 L585.6,849.4 L586.8,847.7 L587.9,846.0 L589.0,844.3 L590.2,842.6 L591.3,841.0 L592.5,839.3 L593.6,837.6 L594.8,836.0 L596.0,834.3 L597.3,832.7 L598.5,831.1 L599.7,829.5 L601.0,827.9 L602.3,826.3 L603.6,824.7 L604.9,823.1 L606.2,821.6 L607.5,820.0 L608.9,818.5 L610.3,817.0 L611.6,815.5 L613.0,814.0 L614.4,812.6 L615.9,811.1 L617.3,809.7 L618.7,808.3 L620.2,806.9 L621.7,805.5 L623.2,804.1 L624.7,802.7 L626.2,801.4 L627.7,800.1 L629.2,798.8 L630.8,797.5 L632.3,796.2 L633.9,795.0 L635.5,793.7 L637.1,792.5 L638.7,791.3 L640.3,790.2 L641.9,789.0 L643.6,787.9 L645.2,786.8 L646.9,785.7 L648.6,784.6 L650.3,783.5 L652.0,782.5 L653.7,781.5 L655.4,780.5 L657.1,779.5 L658.9,778.6 L660.6,777.7 L662.4,776.8 L664.1,775.9 L665.9,775.1 L667.7,774.2 L669.5,773.4 L671.3,772.7 L673.1,771.9 L674.9,771.2 L676.8,770.5 L678.6,769.8 L680.5,769.2 L682.3,768.5 L684.2,767.9 L686.1,767.3 L687.9,766.8 L689.8,766.2 L691.7,765.7 L693.6,765.2 L695.5,764.7 L697.4,764.3 L699.4,763.8 L701.3,763.4 L703.2,763.0 L705.2,762.6 L707.1,762.2 L709.1,761.8 L711.0,761.5 L713.0,761.1 L714.9,760.8 L716.9,760.5 L718.9,760.2 L720.9,759.9 L722.9,759.6 L724.8,759.3 L726.8,759.1 L728.8,758.8 L730.8,758.6 L732.8,758.3 L734.8,758.1 L736.8,757.9 L738.8,757.6 L740.8,757.4 L742.8,757.2 L744.8,757.0 L746.8,756.8 L748.9,756.6 L750.9,756.4 L752.9,756.2 L754.9,755.9 L756.9,755.7 L758.9,755.5 L760.9,755.3 L762.9,755.1 L765.0,754.9 L767.0,754.7 L769.0,754.5 L771.0,754.2 L773.0,754.0 L775.0,753.8 L777.0,753.5 L779.0,753.3 L781.0,753.0 L783.0,752.8 L785.0,752.5 L787.0,752.2 L789.0,751.9 L791.0,751.6 L792.9,751.3 L794.9,751.0 L796.9,750.7 L798.9,750.4 L800.9,750.1 L802.8,749.7 L804.8,749.4 L806.8,749.1 L808.8,748.7 L810.7,748.4 L812.7,748.0 L814.7,747.6 L816.6,747.3 L818.6,746.9 L820.5,746.5 L822.5,746.2 L824.5,745.8 L826.4,745.4 L828.4,745.0 L830.3,744.6 L832.3,744.2 L834.2,743.8 L836.2,743.4 L838.2,743.0 L840.1,742.6 L842.1,742.2 L844.0,741.7 L845.9,741.3 L847.9,740.9 L849.8,740.5 L851.8,740.1 L853.7,739.6 L855.7,739.2 L857.6,738.8 L859.6,738.3 L861.5,737.9 L863.5,737.4 L865.4,737.0 L867.3,736.6 L869.3,736.1 L871.2,735.7 L873.2,735.2 L875.1,734.8 L877.0,734.4 L879.0,733.9 L880.9,733.5 L882.9,733.0 L884.8,732.6 L886.7,732.1 L888.7,731.7 L890.6,731.2 L892.6,730.8 L894.5,730.4 L896.4,729.9 L898.4,729.5 L900.3,729.0 L902.3,728.6 L904.2,728.2 L906.2,727.7 L908.1,727.3 L910.0,726.9 L912.0,726.4 L913.9,726.0 L915.9,725.5 L917.8,725.1 L919.8,724.7 L921.7,724.2 L923.6,723.8 L925.6,723.3 L927.5,722.9 L929.4,722.4 L931.4,721.9 L933.3,721.5 L935.3,721.0 L937.2,720.5 L939.1,720.0 L941.0,719.5 L943.0,719.0 L944.9,718.5 L946.8,717.9 L948.7,717.4 L950.7,716.9 L952.6,716.3 L954.5,715.7 L956.4,715.2 L958.3,714.6 L960.2,714.0 L962.1,713.4 L964.0,712.7 L965.9,712.1 L967.8,711.5 L969.7,710.8 L971.5,710.1 L973.4,709.4 L975.3,708.7 L977.2,708.0 L979.0,707.2 L980.9,706.5 L982.8,705.7 L984.6,704.9 L986.5,704.1 L988.3,703.2 L990.1,702.4 L992.0,701.5 L993.8,700.7 L995.6,699.8 L997.4,698.8 L999.2,697.9 L1001.0,697.0 L1002.7,696.0 L1004.5,695.0 L1006.3,694.0 L1008.0,693.0 L1009.7,691.9 L1011.5,690.9 L1013.2,689.8 L1014.9,688.7 L1016.5,687.6 L1018.2,686.5 L1019.8,685.3 L1021.5,684.2 L1023.1,683.0 L1024.7,681.8 L1026.3,680.5 L1027.9,679.3 L1029.4,678.1 L1031.0,676.8 L1032.5,675.5 L1034.0,674.2 L1035.4,672.8 L1036.9,671.5 L1038.4,670.1 L1039.8,668.7 L1041.2,667.3 L1042.6,665.9 L1043.9,664.5 L1045.3,663.0 L1046.6,661.6 L1048.0,660.1 L1049.3,658.6 L1050.6,657.1 L1051.8,655.6 L1053.1,654.0 L1054.3,652.5 L1055.6,650.9 L1056.8,649.3 L1058.0,647.7 L1059.2,646.1 L1060.3,644.5 L1061.5,642.9 L1062.6,641.3 L1063.8,639.7 L1064.9,638.0 L1066.0,636.4 L1067.1,634.7 L1068.2,633.0 L1069.3,631.3 L1070.3,629.7 L1071.4,628.0 L1072.4,626.3 L1073.5,624.6 L1074.5,622.9 L1075.5,621.1 L1076.5,619.4 L1077.5,617.7 L1078.5,616.0 L1079.5,614.2 L1080.5,612.5 L1081.4,610.7 L1082.4,609.0 L1083.3,607.2 L1084.3,605.5 L1085.2,603.7 L1086.1,601.9 L1087.0,600.2 L1087.9,598.4 L1088.8,596.6 L1089.7,594.8 L1090.6,593.0 L1091.5,591.2 L1092.3,589.4 L1093.2,587.6 L1094.1,585.8 L1094.9,584.0 L1095.8,582.2 L1096.6,580.4 L1097.4,578.6 L1098.3,576.7 L1099.1,574.9 L1099.9,573.1 L1100.7,571.3 L1101.6,569.4 L1102.4,567.6 L1103.2,565.8 L1104.0,563.9 L1104.8,562.1 L1105.5,560.2 L1106.3,558.4 L1107.1,556.5 L1107.9,554.7 L1108.7,552.8 L1109.4,551.0 L1110.2,549.1 L1111.0,547.3 L1111.7,545.4 L1112.5,543.6 L1113.3,541.7 L1114.0,539.9 L1114.8,538.0 L1115.6,536.2 L1116.3,534.3 L1117.1,532.5 L1117.8,530.6 L1118.6,528.7 L1119.3,526.9 L1120.1,525.0 L1120.8,523.2 L1121.6,521.3 L1122.3,519.5 L1123.1,517.6 L1123.8,515.7 L1124.6,513.9 L1125.3,512.0 L1126.1,510.2 L1126.8,508.3 L1127.6,506.5 L1128.3,504.6 L1129.0,502.8 L1129.8,500.9 L1130.5,499.0 L1131.3,497.2 L1132.0,495.3 L1132.8,493.5 L1133.5,491.6 L1134.3,489.8 L1135.0,487.9 L1135.8,486.1 L1136.5,484.2 L1137.2,482.3 L1138.0,480.5 L1138.7,478.6 L1139.5,476.8 L1140.2,474.9 L1141.0,473.1 L1141.7,471.2 L1142.5,469.4 L1143.2,467.5 L1144.0,465.7 L1144.7,463.8 L1145.5,462.0 L1146.2,460.1 L1147.0,458.3 L1147.7,456.4 L1148.5,454.6 L1149.2,452.7 L1150.0,450.9 L1150.7,449.0 L1151.5,447.2 L1152.2,445.3 L1153.0,443.5 L1153.8,441.6 L1154.5,439.8 L1155.3,437.9 L1156.1,436.1 L1156.8,434.2 L1157.6,432.4 L1158.4,430.5 L1159.1,428.7 L1159.9,426.8 L1160.7,425.0 L1161.4,423.1 L1162.2,421.3 L1163.0,419.4 L1163.8,417.6 L1164.5,415.8 L1165.3,413.9 L1166.1,412.1 L1166.9,410.2 L1167.7,408.4 L1168.5,406.6 L1169.3,404.7 L1170.1,402.9 L1170.9,401.0 L1171.7,399.2 L1172.5,397.4 L1173.3,395.5 L1174.1,393.7 L1174.9,391.9 L1175.7,390.0 L1176.5,388.2 L1177.3,386.4 L1178.1,384.6 L1178.9,382.7 L1179.8,380.9 L1180.6,379.1 L1181.4,377.3 L1182.2,375.4 L1183.1,373.6 L1183.9,371.8 L1184.8,370.0 L1185.6,368.2 L1186.5,366.4 L1187.3,364.5 L1188.2,362.7 L1189.0,360.9 L1189.9,359.1 L1190.7,357.3 L1191.6,355.5 L1192.5,353.7 L1193.3,351.9 L1194.2,350.1 L1195.1,348.3 L1196.0,346.5 L1196.9,344.7 L1197.8,342.9 L1198.6,341.2 L1199.5,339.4 L1200.4,337.6 L1201.4,335.8 L1202.3,334.0 L1203.2,332.2 L1204.1,330.5 L1205.0,328.7 L1205.9,326.9 L1206.9,325.1 L1207.8,323.4 L1208.7,321.6 L1209.7,319.9 L1210.7,318.1 L1211.6,316.4 L1212.6,314.6 L1213.6,312.9 L1214.6,311.2 L1215.7,309.5 L1216.8,307.8 L1217.9,306.1 L1219.0,304.5 L1220.1,302.9 L1221.3,301.3 L1222.5,299.7 L1223.8,298.1 L1225.1,296.6 L1226.4,295.1 L1227.8,293.6 L1229.2,292.1 L1230.6,290.7 L1232.2,289.3 L1233.7,288.0 L1235.3,286.6 L1237.0,285.4 L1238.7,284.2 L1240.4,283.1 L1242.1,282.1 L1243.9,281.1 L1245.7,280.3 L1247.5,279.6 L1249.3,279.0 L1251.1,278.6 L1253.0,278.4 L1254.8,278.2 L1256.6,278.3 L1258.4,278.5 L1260.2,278.9 L1262.0,279.5 L1263.7,280.2 L1265.4,281.0 L1267.1,282.0 L1268.7,283.0 L1270.3,284.2 L1271.9,285.4 L1273.4,286.8 L1274.9,288.2 L1276.3,289.6 L1277.6,291.2 L1278.9,292.7 L1280.2,294.3 L1281.4,296.0 L1282.5,297.6 L1283.7,299.3 L1284.8,301.0 L1285.9,302.7 L1286.9,304.4 L1287.9,306.2 L1288.9,307.9 L1289.9,309.6 L1290.9,311.4 L1291.8,313.2 L1292.7,314.9 L1293.6,316.7 L1294.5,318.5 L1295.3,320.3 L1296.2,322.1 L1297.0,323.9 L1297.8,325.7 L1298.6,327.5 L1299.4,329.3 L1300.2,331.1 L1300.9,333.0 L1301.7,334.8 L1302.4,336.7 L1303.1,338.5 L1303.9,340.3 L1304.6,342.2 L1305.3,344.0 L1306.0,345.9 L1306.7,347.8 L1307.4,349.6 L1308.1,351.5 L1308.8,353.4 L1309.5,355.2 L1310.2,357.1 L1310.8,359.0 L1311.5,360.8 L1312.2,362.7 L1312.9,364.6 L1313.5,366.5 L1314.2,368.4 L1314.8,370.2 L1315.5,372.1 L1316.1,374.0 L1316.7,375.9 L1317.4,377.8 L1318.0,379.7 L1318.6,381.6 L1319.3,383.5 L1319.9,385.4 L1320.5,387.3 L1321.1,389.2 L1321.7,391.1 L1322.3,393.0 L1322.9,394.9 L1323.5,396.8 L1324.1,398.8 L1324.7,400.7 L1325.3,402.6 L1325.9,404.5 L1326.5,406.4 L1327.0,408.3 L1327.6,410.3 L1328.2,412.2 L1328.8,414.1 L1329.3,416.0 L1329.9,417.9 L1330.4,419.9 L1331.0,421.8 L1331.5,423.7 L1332.1,425.7 L1332.6,427.6 L1333.2,429.5 L1333.7,431.4 L1334.3,433.4 L1334.8,435.3 L1335.3,437.2 L1335.9,439.2 L1336.4,441.1 L1336.9,443.0 L1337.4,445.0 L1337.9,446.9 L1338.5,448.8 L1339.0,450.8 L1339.5,452.7 L1340.0,454.6 L1340.5,456.6 L1341.0,458.5 L1341.5,460.5 L1342.0,462.4 L1342.5,464.3 L1343.0,466.3 L1343.5,468.2 L1344.0,470.2 L1344.5,472.1 L1344.9,474.0 L1345.4,476.0 L1345.9,477.9 L1346.4,479.9 L1346.9,481.8 L1347.3,483.8 L1347.8,485.7 L1348.3,487.7 L1348.7,489.6 L1349.2,491.5 L1349.7,493.5 L1350.1,495.4 L1350.6,497.4 L1351.0,499.3 L1351.5,501.3 L1351.9,503.2 L1352.4,505.2 L1352.8,507.1 L1353.3,509.1 L1353.7,511.0 L1354.2,513.0 L1354.6,514.9 L1355.1,516.9 L1355.5,518.8 L1355.9,520.8 L1356.4,522.7 L1356.8,524.7 L1357.2,526.7 L1357.7,528.6 L1358.1,530.6 L1358.5,532.5 L1358.9,534.5 L1359.4,536.4 L1359.8,538.4 L1360.2,540.3 L1360.6,542.3 L1361.0,544.3 L1361.4,546.2 L1361.9,548.2 L1362.3,550.1 L1362.7,552.1 L1363.1,554.0 L1363.5,556.0 L1363.9,558.0 L1364.3,559.9 L1364.7,561.9 L1365.1,563.8 L1365.5,565.8 L1365.9,567.8 L1366.3,569.7 L1366.7,571.7 L1367.1,573.6 L1367.5,575.6 L1367.9,577.6 L1368.3,579.5 L1368.7,581.5 L1369.1,583.5 L1369.5,585.4 L1369.9,587.4 L1370.2,589.3 L1370.6,591.3 L1371.0,593.3 L1371.4,595.2 L1371.8,597.2 L1372.2,599.2 L1372.6,601.1 L1372.9,603.1 L1373.3,605.0 L1373.7,607.0 L1374.1,609.0 L1374.5,610.9 L1374.8,612.9 L1375.2,614.9 L1375.6,616.8 L1376.0,618.8 L1376.4,620.8 L1376.7,622.7 L1377.1,624.7 L1377.5,626.7 L1377.9,628.6 L1378.2,630.6 L1378.6,632.6 L1379.0,634.5 L1379.4,636.5 L1379.7,638.5 L1380.1,640.4 L1380.5,642.4 L1380.8,644.4 L1381.2,646.3 L1381.6,648.3 L1382.0,650.3 L1382.3,652.2 L1382.7,654.2 L1383.1,656.1 L1383.4,658.1 L1383.8,660.1 L1384.2,662.0 L1384.5,664.0 L1384.9,666.0 L1385.3,667.9 L1385.6,669.9 L1386.0,671.9 L1386.4,673.9 L1386.7,675.8 L1387.1,677.8 L1387.5,679.8 L1387.8,681.7 L1388.2,683.7 L1388.6,685.7 L1388.9,687.6 L1389.3,689.6 L1389.7,691.6 L1390.0,693.5 L1390.4,695.5 L1390.7,697.5 L1391.1,699.4 L1391.5,701.4 L1391.8,703.4 L1392.2,705.3 L1392.5,707.3 L1392.9,709.3 L1393.3,711.2 L1393.6,713.2 L1394.0,715.2 L1394.3,717.1 L1394.7,719.1 L1395.1,721.1 L1395.4,723.0 L1395.8,725.0 L1396.1,727.0 L1396.5,728.9 L1396.9,730.9 L1397.2,732.9 L1397.6,734.9 L1397.9,736.8 L1398.3,738.8 L1398.6,740.8 L1399.0,742.7 L1399.3,744.7 L1399.7,746.7 L1400.1,748.6 L1400.4,750.6 L1400.8,752.6 L1401.1,754.5 L1401.5,756.5 L1401.8,758.5 L1402.2,760.4 L1402.5,762.4 L1402.9,764.4 L1403.2,766.4 L1403.6,768.3 L1404.0,770.3 L1404.3,772.3 L1404.7,774.2 L1405.0,776.2 L1405.4,778.2 L1405.7,780.1 L1406.1,782.1 L1406.4,784.1 L1406.8,786.0 L1407.1,788.0 L1407.5,790.0 L1407.8,792.0 L1408.2,793.9 L1408.5,795.9 L1408.9,797.9 L1409.2,799.8 L1409.6,801.8 L1409.9,803.8 L1410.3,805.7 L1410.6,807.7 L1411.0,809.7 L1411.3,811.7 L1411.7,813.6 L1412.0,815.6 L1412.4,817.6 L1412.7,819.5 L1413.1,821.5 L1413.4,823.5 L1413.8,825.4 L1414.1,827.4 L1414.5,829.4 L1414.8,831.4 L1415.2,833.3 L1415.5,835.3 L1415.9,837.3 L1416.2,839.2 L1416.6,841.2 L1416.9,843.2 L1417.3,845.1 L1417.6,847.1 L1418.0,849.1 L1418.3,851.1 L1418.7,853.0 L1419.0,855.0 L1419.4,857.0 L1419.7,858.9 L1420.1,860.9 L1420.4,862.9 L1420.8,864.8 L1421.1,866.8 L1421.5,868.8 L1421.8,870.8 L1422.1,872.7 L1422.5,874.7 L1422.8,876.7 L1423.2,878.6 L1423.5,880.6 L1423.9,882.6 L1424.2,884.6 L1424.6,886.5 L1424.9,888.5 L1425.3,890.5 L1425.6,892.4 L1426.0,894.4 L1426.3,896.4 L1426.7,898.3 L1427.0,900.3 L1427.4,902.3 L1427.7,904.3 L1428.1,906.2 L1428.4,908.2 L1428.8,910.2 L1429.1,912.1 L1429.5,914.1 L1429.8,916.1 L1430.2,918.0 L1430.5,920.0 L1430.9,922.0 L1431.2,924.0 L1431.5,925.9 L1431.9,927.9 L1432.2,929.9 L1432.6,931.8 L1432.9,933.8 L1433.3,935.8 L1433.6,937.8 L1434.0,939.7 L1434.3,941.7 L1434.7,943.7 L1435.0,945.6 L1435.4,947.6 L1435.7,949.6 L1436.1,951.5 L1436.4,953.5 L1436.8,955.5 L1437.1,957.5 L1437.5,959.4 L1437.8,961.4 L1438.2,963.4 L1438.5,965.3 L1438.9,967.3 L1439.2,969.3 L1439.6,971.2 L1439.9,973.2 L1440.3,975.2 L1440.7,977.2 L1441.0,979.1 L1441.4,981.1 L1441.7,983.1 L1442.1,985.0 L1442.4,987.0 L1442.8,989.0 L1443.1,990.9 L1443.5,992.9 L1443.8,994.9 L1444.2,996.9 L1444.5,998.8 L1444.9,1000.8 L1445.2,1002.8 L1445.6,1004.7 L1445.9,1006.7 L1446.3,1008.7 L1446.7,1010.6 L1447.0,1012.6 L1447.4,1014.6 L1447.7,1016.6 L1448.1,1018.5 L1448.4,1020.5 L1448.8,1022.5 L1449.1,1024.4 L1449.5,1026.4 L1449.9,1028.4 L1450.2,1030.3 L1450.6,1032.3 L1450.9,1034.3 L1451.3,1036.2 L1451.6,1038.2 L1452.0,1040.2 L1452.4,1042.2 L1452.7,1044.1 L1453.1,1046.1 L1453.4,1048.1 L1453.8,1050.0 L1454.2,1052.0 L1454.5,1054.0 L1454.9,1055.9 L1455.2,1057.9 L1455.6,1059.9 L1456.0,1061.8 L1456.3,1063.8 L1456.7,1065.8 L1457.0,1067.7 L1457.4,1069.7 L1457.8,1071.7 L1458.1,1073.7 L1458.5,1075.6 L1458.9,1077.6 L1459.2,1079.6 L1459.6,1081.5 L1460.0,1083.5 L1460.3,1085.5 L1460.7,1087.4 L1461.1,1089.4 L1461.4,1091.4 L1461.8,1093.3 L1462.2,1095.3 L1462.5,1097.3 L1462.9,1099.2 L1463.3,1101.2 L1463.7,1103.2 L1464.0,1105.1 L1464.4,1107.1 L1464.8,1109.1 L1465.2,1111.0 L1465.5,1113.0 L1465.9,1115.0 L1466.3,1116.9 L1466.7,1118.9 L1467.1,1120.8 L1467.5,1122.8 L1467.8,1124.8 L1468.2,1126.7 L1468.6,1128.7 L1469.0,1130.7 L1469.4,1132.6 L1469.8,1134.6 L1470.2,1136.6 L1470.6,1138.5 L1470.9,1140.5 L1471.3,1142.4 L1471.7,1144.4 L1472.1,1146.4 L1472.5,1148.3 L1472.9,1150.3 L1473.3,1152.2 L1473.7,1154.2 L1474.1,1156.2 L1474.5,1158.1 L1474.9,1160.1 L1475.3,1162.0 L1475.8,1164.0 L1476.2,1166.0 L1476.6,1167.9 L1477.0,1169.9 L1477.4,1171.8 L1477.8,1173.8 L1478.2,1175.7 L1478.7,1177.7 L1479.1,1179.6 L1479.5,1181.6 L1479.9,1183.6 L1480.3,1185.5 L1480.8,1187.5 L1481.2,1189.4 L1481.6,1191.4 L1482.1,1193.3 L1482.5,1195.3 L1482.9,1197.2 L1483.4,1199.2 L1483.8,1201.1 L1484.3,1203.1 L1484.7,1205.0 L1485.1,1207.0 L1485.6,1208.9 L1486.0,1210.9 L1486.5,1212.8 L1486.9,1214.8 L1487.4,1216.7 L1487.9,1218.7 L1488.3,1220.6 L1488.8,1222.5 L1489.2,1224.5 L1489.7,1226.4 L1490.2,1228.4 L1490.6,1230.3 L1491.1,1232.3 L1491.6,1234.2 L1492.1,1236.1 L1492.5,1238.1 L1493.0,1240.0 L1493.5,1242.0 L1494.0,1243.9 L1494.5,1245.8 L1495.0,1247.8 L1495.5,1249.7 L1496.0,1251.7 L1496.5,1253.6 L1497.0,1255.5 L1497.5,1257.5 L1498.0,1259.4 L1498.5,1261.3 L1499.0,1263.3 L1499.5,1265.2 L1500.0,1267.1 L1500.5,1269.1 L1501.1,1271.0 L1501.6,1272.9 L1502.2,1274.8 L1502.7,1276.7 L1503.3,1278.7 L1503.8,1280.6 L1504.4,1282.5 L1505.0,1284.4 L1505.6,1286.3 L1506.2,1288.2 L1506.8,1290.1 L1507.4,1292.0 L1508.0,1293.9 L1508.6,1295.8 L1509.2,1297.7 L1509.9,1299.6 L1510.6,1301.5 L1511.2,1303.4 L1511.9,1305.3 L1512.6,1307.1 L1513.3,1309.0 L1514.0,1310.9 L1514.7,1312.8 L1515.5,1314.6 L1516.2,1316.5 L1517.0,1318.3 L1517.8,1320.2 L1518.6,1322.0 L1519.4,1323.9 L1520.2,1325.7 L1521.1,1327.5 L1521.9,1329.3 L1522.8,1331.2 L1523.7,1333.0 L1524.6,1334.8 L1525.5,1336.6 L1526.4,1338.4 L1527.4,1340.2 L1528.3,1342.0 L1529.3,1343.7 L1530.3,1345.5 L1531.4,1347.3 L1532.4,1349.0 L1533.5,1350.8 L1534.6,1352.4 L1535.8,1354.1 L1536.9,1355.7 L1538.2,1357.2 L1539.5,1358.7 L1540.8,1360.1 L1542.3,1361.3 L1543.7,1362.5 L1545.3,1363.6 L1546.9,1364.6 L1548.6,1365.4 L1550.4,1366.1 L1552.2,1366.7 L1554.1,1367.2 L1556.0,1367.5 L1558.0,1367.7 L1560.0,1367.9 L1562.0,1367.9 L1564.1,1367.8 L1566.1,1367.6 L1568.1,1367.4 L1570.2,1367.0 L1572.1,1366.6 L1574.1,1366.1 L1576.0,1365.6 L1577.9,1364.9 L1579.8,1364.3 L1581.7,1363.5 L1583.5,1362.7 L1585.4,1361.8 L1587.1,1360.9 L1588.9,1360.0 L1590.7,1359.0 L1592.4,1357.9 L1594.1,1356.8 L1595.8,1355.7 L1597.5,1354.6 L1599.1,1353.4 L1600.7,1352.2 L1602.3,1350.9 L1603.9,1349.7 L1605.5,1348.4 L1607.0,1347.1 L1608.6,1345.8 L1610.1,1344.5 L1611.6,1343.1 L1613.1,1341.8 L1614.5,1340.4 L1616.0,1339.0 L1617.4,1337.6 L1618.8,1336.2 L1620.2,1334.7 L1621.6,1333.3 L1622.9,1331.8 L1624.2,1330.3 L1625.6,1328.8 L1626.8,1327.3 L1628.1,1325.7 L1629.4,1324.2 L1630.6,1322.7 L1631.9,1321.1 L1633.1,1319.5 L1634.2,1317.9 L1635.4,1316.3 L1636.6,1314.7 L1637.7,1313.1 L1638.8,1311.4 L1639.9,1309.8 L1641.0,1308.2 L1642.1,1306.5 L1643.1,1304.8 L1644.2,1303.1 L1645.2,1301.4 L1646.2,1299.7 L1647.2,1298.0 L1648.1,1296.3 L1649.1,1294.6 L1650.0,1292.9 L1651.0,1291.1 L1651.9,1289.4 L1652.8,1287.6 L1653.7,1285.8 L1654.6,1284.1 L1655.4,1282.3 L1656.3,1280.5 L1657.1,1278.7 L1657.9,1276.9 L1658.8,1275.1 L1659.6,1273.3 L1660.4,1271.4 L1661.1,1269.6 L1661.9,1267.8 L1662.7,1265.9 L1663.4,1264.1 L1664.2,1262.3 L1664.9,1260.4 L1665.6,1258.5 L1666.3,1256.7 L1667.0,1254.8 L1667.7,1252.9 L1668.4,1251.1 L1669.1,1249.2 L1669.8,1247.3 L1670.4,1245.4 L1671.1,1243.5 L1671.7,1241.6 L1672.4,1239.7 L1673.0,1237.8 L1673.7,1235.9 L1674.3,1234.0 L1674.9,1232.1 L1675.5,1230.2 L1676.1,1228.3 L1676.8,1226.3 L1677.4,1224.4 L1678.0,1222.5 L1678.6,1220.6 L1679.1,1218.7 L1679.7,1216.7 L1680.3,1214.8 L1680.9,1212.9 L1681.5,1211.0 L1682.1,1209.0 L1682.6,1207.1 L1683.2,1205.2 L1683.8,1203.3 L1684.4,1201.3 L1684.9,1199.4 L1685.5,1197.5 L1686.0,1195.5 L1686.6,1193.6 L1687.2,1191.7 L1687.7,1189.7 L1688.3,1187.8 L1688.8,1185.9 L1689.4,1183.9 L1689.9,1182.0 L1690.4,1180.1 L1691.0,1178.1 L1691.5,1176.2 L1692.1,1174.3 L1692.6,1172.3 L1693.1,1170.4 L1693.7,1168.5 L1694.2,1166.5 L1694.7,1164.6 L1695.3,1162.7 L1695.8,1160.7 L1696.3,1158.8 L1696.8,1156.8 L1697.3,1154.9 L1697.9,1153.0 L1698.4,1151.0 L1698.9,1149.1 L1699.4,1147.1 L1699.9,1145.2 L1700.4,1143.3 L1701.0,1141.3 L1701.5,1139.4 L1702.0,1137.4 L1702.5,1135.5 L1703.0,1133.6 L1703.5,1131.6 L1704.0,1129.7 L1704.5,1127.7 L1705.0,1125.8 L1705.5,1123.9 L1706.0,1121.9 L1706.5,1120.0 L1707.0,1118.0 L1707.5,1116.1 L1708.0,1114.2 L1708.6,1112.2 L1709.1,1110.3 L1709.6,1108.3 L1710.1,1106.4 L1710.6,1104.5 L1711.1,1102.5 L1711.6,1100.6 L1712.1,1098.7 L1712.6,1096.7 L1713.1,1094.8 L1713.6,1092.8 L1714.1,1090.9 L1714.6,1089.0 L1715.1,1087.0 L1715.6,1085.1 L1716.1,1083.2 L1716.6,1081.2 L1717.1,1079.3 L1717.6,1077.3 L1718.1,1075.4 L1718.6,1073.5 L1719.1,1071.5 L1719.6,1069.6 L1720.1,1067.7 L1720.6,1065.7 L1721.1,1063.8 L1721.6,1061.9 L1722.1,1060.0 L1722.6,1058.0 L1723.1,1056.1 L1723.6,1054.2 L1724.2,1052.2 L1724.7,1050.3 L1725.2,1048.4 L1725.7,1046.5 L1726.2,1044.5 L1726.7,1042.6 L1727.3,1040.7 L1727.8,1038.8 L1728.3,1036.8 L1728.8,1034.9 L1729.3,1033.0 L1729.9,1031.1 L1730.4,1029.2 L1730.9,1027.2 L1731.5,1025.3 L1732.0,1023.4 L1732.5,1021.5 L1733.1,1019.6 L1733.6,1017.7 L1734.1,1015.7 L1734.7,1013.8 L1735.2,1011.9 L1735.8,1010.0 L1736.3,1008.1 L1736.9,1006.2 L1737.4,1004.3 L1738.0,1002.4 L1738.5,1000.5 L1739.1,998.6 L1739.7,996.7 L1740.2,994.8 L1740.8,992.8 L1741.4,990.9 L1742.0,989.0 L1742.5,987.1 L1743.1,985.2 L1743.7,983.3 L1744.3,981.5 L1744.9,979.6 L1745.5,977.7 L1746.1,975.8 L1746.7,973.9 L1747.3,972.0 L1747.9,970.1 L1748.5,968.2 L1749.1,966.3 L1749.8,964.4 L1750.4,962.5 L1751.0,960.6 L1751.7,958.7 L1752.3,956.9 L1753.0,955.0 L1753.6,953.1 L1754.3,951.2 L1754.9,949.3 L1755.6,947.4 L1756.3,945.6 L1757.0,943.7 L1757.6,941.8 L1758.3,939.9 L1759.0,938.0 L1759.7,936.2 L1760.4,934.3 L1761.1,932.4 L1761.9,930.5 L1762.6,928.7 L1763.3,926.8 L1764.1,924.9 L1764.8,923.0 L1765.5,921.2 L1766.3,919.3 L1767.1,917.4 L1767.8,915.5 L1768.6,913.7 L1769.4,911.8 L1770.2,909.9 L1771.0,908.1 L1771.8,906.2 L1772.6,904.3 L1773.4,902.5 L1774.2,900.6 L1775.1,898.7 L1775.9,896.9 L1776.8,895.0 L1777.6,893.2 L1778.5,891.3 L1779.4,889.5 L1780.3,887.6 L1781.2,885.8 L1782.1,884.0 L1783.0,882.1 L1783.9,880.3 L1784.8,878.5 L1785.8,876.7 L1786.7,874.9 L1787.7,873.1 L1788.7,871.3 L1789.7,869.5 L1790.7,867.8 L1791.7,866.0 L1792.7,864.3 L1793.8,862.5 L1794.8,860.8 L1795.9,859.1 L1796.9,857.4 L1798.0,855.7 L1799.1,854.0 L1800.2,852.4 L1801.4,850.7 L1802.5,849.1 L1803.7,847.5 L1804.8,845.8 L1806.0,844.2 L1807.2,842.7 L1808.4,841.1 L1809.7,839.6 L1810.9,838.0 L1812.2,836.5 L1813.5,835.0 L1814.8,833.5 L1816.1,832.1 L1817.4,830.6 L1818.7,829.2 L1820.1,827.8 L1821.5,826.4 L1822.9,825.1 L1824.3,823.8 L1825.7,822.4 L1827.2,821.1 L1828.6,819.9 L1830.1,818.6 L1831.6,817.4 L1833.2,816.2 L1834.7,815.0 L1836.3,813.9 L1837.8,812.7 L1839.4,811.6 L1841.1,810.5 L1842.7,809.5 L1844.4,808.4 L1846.0,807.4 L1847.7,806.4 L1849.4,805.5 L1851.1,804.5 L1852.9,803.6 L1854.6,802.7 L1856.4,801.8 L1858.2,801.0 L1860.0,800.2 L1861.8,799.4 L1863.6,798.6 L1865.4,797.8 L1867.3,797.0 L1869.1,796.3 L1871.0,795.6 L1872.9,794.9 L1874.8,794.3 L1876.7,793.6 L1878.6,793.0 L1880.5,792.4 L1882.4,791.8 L1884.3,791.2 L1886.3,790.6 L1888.2,790.1 L1890.2,789.6 L1892.1,789.1 L1894.1,788.6 L1896.1,788.1 L1898.0,787.7 L1900.0,787.2 L1902.0,786.8 L1904.0,786.4 L1906.0,786.0 L1908.0,785.6 L1910.0,785.3 L1912.0,784.9 L1914.0,784.6 L1916.0,784.3 L1918.0,784.0 L1920.0,783.7 L1922.0,783.4 L1924.0,783.2 L1926.0,782.9 L1928.0,782.7 L1930.0,782.5 L1932.0,782.3 L1934.0,782.1 L1936.0,781.9 L1938.0,781.7 L1940.0,781.6 L1942.0,781.4 L1944.0,781.3 L1946.0,781.1 L1948.0,781.0 L1950.0,780.9 L1952.0,780.8 L1954.0,780.7 L1956.0,780.6 L1958.0,780.5 L1960.0,780.4 L1962.0,780.4 L1964.0,780.3 L1966.0,780.3 L1968.0,780.2 L1969.9,780.2 L1971.9,780.1 L1973.9,780.1 L1975.9,780.1 L1977.9,780.1 L1979.9,780.1 L1981.9,780.0 L1983.9,780.0 L1985.9,780.0 L1987.9,780.0 L1989.9,780.0 L1991.9,780.0 L1993.9,780.0 L1995.9,780.1 L1997.9,780.1 L1999.9,780.1 L2001.9,780.1 L2003.9,780.1 L2005.9,780.1 L2007.9,780.1 L2009.9,780.1 L2011.9,780.1 L2013.9,780.2 L2015.9,780.2 L2017.9,780.2 L2019.9,780.2 L2021.9,780.2 L2023.9,780.2 L2025.9,780.2 L2027.9,780.2 L2029.9,780.2 L2031.9,780.2 L2033.9,780.2 L2035.9,780.2 L2037.9,780.2 L2039.9,780.2 L2041.9,780.2 L2043.9,780.2 L2045.9,780.2 L2047.9,780.2 L2049.9,780.2 L2051.9,780.2 L2053.9,780.2 L2055.9,780.2 L2057.9,780.2 L2059.9,780.2 L2061.9,780.2 L2063.9,780.2 L2065.9,780.2 L2067.9,780.2 L2069.9,780.2 L2071.9,780.1 L2073.9,780.1 L2075.9,780.1 L2077.9,780.1 L2079.9,780.1 L2081.9,780.1 L2083.9,780.1 L2085.9,780.1 L2087.9,780.1 L2089.9,780.1 L2091.9,780.1 L2093.9,780.0 L2095.9,780.0 L2097.9,780.0 L2099.9,780.0 L2101.9,780.0 L2103.9,780.0 L2105.9,780.0 L2107.9,780.0 L2109.9,779.9 L2111.9,779.9 L2113.9,779.9 L2115.9,779.9 L2117.9,779.9 L2119.9,779.9 L2121.9,779.9 L2123.9,779.9 L2125.9,779.8 L2127.9,779.8 L2129.9,779.8 L2131.9,779.8 L2133.9,779.8 L2135.9,779.8 L2137.9,779.8 L2139.9,779.8 L2142.0,779.8 L2144.0,779.7 L2146.0,779.7 L2148.0,779.7 L2150.0,779.7 L2152.0,779.7 L2154.0,779.7 L2156.0,779.7 L2158.0,779.7 L2160.0,779.7 L2162.0,779.6 L2164.0,779.6 L2166.0,779.6 L2168.0,779.6 L2170.0,779.6 L2172.0,779.6 L2174.0,779.6 L2176.0,779.6 L2178.0,779.6 L2180.0,779.6 L2182.0,779.6 L2184.0,779.6 L2186.0,779.6 L2188.0,779.6 L2190.0,779.6 L2192.0,779.5 L2194.0,779.5 L2196.0,779.5 L2198.0,779.5 L2200.0,779.5 L2202.0,779.5 L2204.0,779.5 L2206.0,779.5 L2208.0,779.5 L2210.0,779.5 L2212.0,779.5 L2214.0,779.6 L2216.0,779.6 L2218.0,779.6 L2220.0,779.6 L2222.0,779.6 L2224.0,779.6 L2226.0,779.6 L2228.0,779.6 L2230.0,779.6 L2232.0,779.6 L2234.0,779.6 L2236.0,779.6 L2238.0,779.6 L2240.0,779.7 L2242.0,779.7 L2244.0,779.7 L2246.0,779.7 L2248.0,779.7 L2250.0,779.7 L2252.0,779.8 L2254.0,779.8 L2256.0,779.8" fill="none" stroke="#ff0000" stroke-width="13.6" stroke-linejoin="round" stroke-linecap="butt"/>
</g>
<rect x="438" y="147" width="163.4" height="13.6" fill="#0a800a"/>
<rect x="438" y="232.4" width="163.4" height="13.6" fill="#ff0000"/>
<text x="615.4" y="175" font-family="&apos;Liberation Sans&apos;, Arial, sans-serif" font-size="70" fill="#000" stroke="#fff" stroke-width="1.4" textLength="222.9" lengthAdjust="spacingAndGlyphs">(<tspan font-style="italic">P</tspan>)<tspan font-weight="bold" stroke="none">-</tspan>(+)<tspan font-weight="bold" stroke="none">-</tspan></text>
<text x="839.5" y="175" font-family="&apos;Liberation Sans&apos;, Arial, sans-serif" font-size="70" fill="#000" font-weight="bold" stroke="#000" stroke-width="0.8" textLength="222.4" lengthAdjust="spacingAndGlyphs">BT2-T6</text>
<text x="615.4" y="260.5" font-family="&apos;Liberation Sans&apos;, Arial, sans-serif" font-size="70" fill="#000" stroke="#fff" stroke-width="1.4" textLength="215.7" lengthAdjust="spacingAndGlyphs">(<tspan font-style="italic">M</tspan>)<tspan font-weight="bold" stroke="none">-</tspan>(<tspan font-weight="bold" stroke="none">-</tspan>)<tspan font-weight="bold" stroke="none">-</tspan></text>
<text x="832.2" y="260.5" font-family="&apos;Liberation Sans&apos;, Arial, sans-serif" font-size="70" fill="#000" font-weight="bold" stroke="#000" stroke-width="0.8" textLength="222.4" lengthAdjust="spacingAndGlyphs">BT2-T6</text>
<text x="932" y="1728" font-size="105" font-family="&apos;Liberation Serif&apos;, &apos;Times New Roman&apos;, serif" fill="#000" textLength="739" lengthAdjust="spacingAndGlyphs">Wavelength&#160;&#160;(nm)</text>
<text transform="translate(95.5,1061) rotate(-90)" x="0" y="0" font-size="97" font-family="&apos;Liberation Serif&apos;, &apos;Times New Roman&apos;, serif" fill="#000" stroke="#fff" stroke-width="1.3" textLength="676" lengthAdjust="spacingAndGlyphs">Ellipticity (mdeg)</text>
</svg>
</body></html>
